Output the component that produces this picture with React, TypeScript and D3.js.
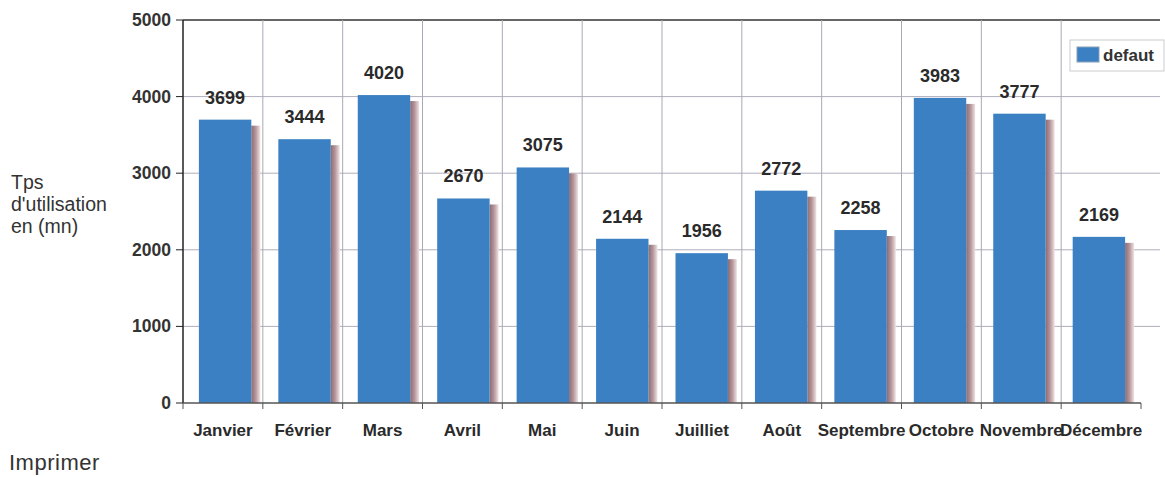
import React, { useEffect, useRef } from 'react';
import * as d3 from 'd3';

const months = ['Janvier', 'Février', 'Mars', 'Avril', 'Mai', 'Juin', 'Juilliet', 'Août', 'Septembre', 'Octobre', 'Novembre', 'Décembre'];
const values = [3699, 3444, 4020, 2670, 3075, 2144, 1956, 2772, 2258, 3983, 3777, 2169];
const yTicks = [0, 1000, 2000, 3000, 4000, 5000];
const titleLines = ['Tps', "d'utilisation", 'en (mn)'];
const seriesName = 'defaut';

const FONT = 'Liberation Sans, Arial, sans-serif';

function App() {
  const ref = useRef<SVGSVGElement>(null);

  useEffect(() => {
    const svg = d3.select(ref.current);
    svg.selectAll('*').remove();

    const left = 183, right = 1141, top = 20, bottom = 403;

    const x = d3.scaleBand().domain(months).range([left, right]).paddingInner(0.34).paddingOuter(0.2);
    const y = d3.scaleLinear().domain([0, 5000]).range([bottom, top]);

    const defs = svg.append('defs');
    const grad = defs.append('linearGradient').attr('id', 'shade').attr('x1', 0).attr('x2', 1).attr('y1', 0).attr('y2', 0);
    grad.append('stop').attr('offset', '0%').attr('stop-color', '#8a6c74');
    grad.append('stop').attr('offset', '50%').attr('stop-color', '#b8979c');
    grad.append('stop').attr('offset', '100%').attr('stop-color', '#eee4e4');

    // grid
    svg.append('g').selectAll('line').data(yTicks.slice(1)).join('line')
      .attr('x1', left).attr('x2', 1160)
      .attr('y1', d => y(d)).attr('y2', d => y(d))
      .attr('stroke', d => d === 5000 ? '#333' : '#b0aebb').attr('stroke-width', d => d === 5000 ? 1.5 : 1);

    const bounds = d3.range(1, 12).map(i => left + i * (right - left) / 12);
    svg.append('g').selectAll('line').data(bounds).join('line')
      .attr('x1', d => d).attr('x2', d => d)
      .attr('y1', top).attr('y2', bottom)
      .attr('stroke', '#aaa8b4');

    // bars with shadow on the right side
    const bw = x.bandwidth();
    svg.append('g').selectAll('rect').data(values).join('rect')
      .attr('x', (d, i) => x(months[i])! + bw)
      .attr('y', d => y(d) + 6)
      .attr('width', 9)
      .attr('height', d => bottom - y(d) - 6)
      .attr('fill', 'url(#shade)');

    svg.append('g').selectAll('rect').data(values).join('rect')
      .attr('x', (d, i) => x(months[i])!)
      .attr('y', d => y(d))
      .attr('width', bw)
      .attr('height', d => bottom - y(d))
      .attr('fill', '#3b80c2');

    // value labels
    svg.append('g').selectAll('text').data(values).join('text')
      .attr('x', (d, i) => x(months[i])! + bw / 2)
      .attr('y', d => y(d) - 16)
      .attr('text-anchor', 'middle')
      .attr('font-family', FONT)
      .attr('font-size', 18).attr('font-weight', 'bold')
      .attr('fill', '#2a2a2a')
      .text(d => d);

    // axes
    svg.append('line').attr('x1', left).attr('x2', left).attr('y1', top).attr('y2', bottom)
      .attr('stroke', '#222').attr('stroke-width', 1.5);
    svg.append('line').attr('x1', left).attr('x2', right).attr('y1', bottom).attr('y2', bottom)
      .attr('stroke', '#555').attr('stroke-width', 1.5);

    const yAxis = svg.append('g');
    yAxis.selectAll('line').data(yTicks).join('line')
      .attr('x1', left - 7).attr('x2', left).attr('y1', d => y(d)).attr('y2', d => y(d))
      .attr('stroke', '#222');
    yAxis.selectAll('text').data(yTicks).join('text')
      .attr('x', left - 12).attr('y', d => y(d) + 6)
      .attr('text-anchor', 'end')
      .attr('font-family', FONT)
      .attr('font-size', 17.5).attr('font-weight', 'bold').attr('fill', '#333')
      .text(d => d);

    const xAxis = svg.append('g');
    xAxis.selectAll('line').data([left, ...bounds, right]).join('line')
      .attr('x1', d => d).attr('x2', d => d).attr('y1', bottom).attr('y2', bottom + 6)
      .attr('stroke', '#555');
    xAxis.selectAll('text').data(months).join('text')
      .attr('x', d => left + (months.indexOf(d) + 0.5) * (right - left) / 12)
      .attr('y', 436)
      .attr('text-anchor', 'middle')
      .attr('font-family', FONT)
      .attr('font-size', 17).attr('font-weight', 'bold').attr('fill', '#2a2a2a')
      .text(d => d);

    // y title
    svg.append('g').selectAll('text').data(titleLines).join('text')
      .attr('x', 11).attr('y', (d, i) => 189 + i * 22)
      .attr('font-family', FONT)
      .attr('font-size', 19.5).attr('fill', '#333')
      .text(d => d);

    // legend
    const lg = svg.append('g');
    lg.append('rect').attr('x', 1070).attr('y', 40).attr('width', 94).attr('height', 31)
      .attr('fill', '#fff').attr('stroke', '#ccc');
    lg.append('rect').attr('x', 1077).attr('y', 47).attr('width', 22).attr('height', 15)
      .attr('fill', '#3b80c2').attr('stroke', '#8aa0b8');
    lg.append('text').attr('x', 1103).attr('y', 61)
      .attr('font-family', FONT)
      .attr('font-size', 17).attr('font-weight', 'bold').attr('fill', '#333')
      .text(seriesName);

    svg.append('text').attr('x', 9).attr('y', 470)
      .attr('font-family', FONT)
      .attr('font-size', 22).attr('letter-spacing', 0.5).attr('fill', '#333')
      .text('Imprimer');
  }, []);

  return (
    <div style={{ position: 'absolute', left: 0, top: 0 }}>
      <svg ref={ref} width={1165} height={477} style={{ display: 'block', background: '#fff' }}></svg>
    </div>
  );
}

export default App;
